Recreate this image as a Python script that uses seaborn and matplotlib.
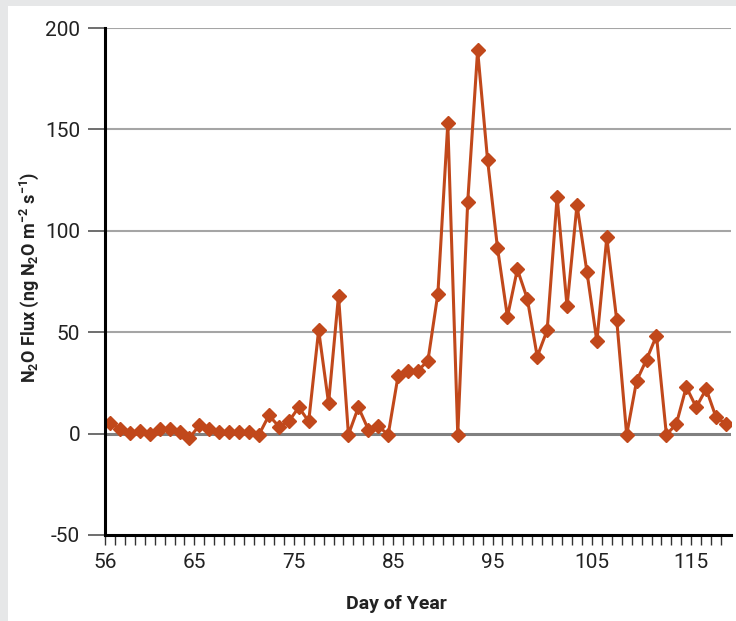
import matplotlib
matplotlib.use('Agg')
import matplotlib.pyplot as plt
from matplotlib.patches import Rectangle
from matplotlib.ticker import FixedLocator, NullFormatter
import seaborn as sns
import pandas as pd

# day of year (one sample per day)
days = [56, 57, 58, 59, 60, 61, 62, 63, 64, 65, 66, 67, 68, 69, 70, 71, 72, 73, 74, 75,
        76, 77, 78, 79, 80, 81, 82, 83, 84, 85, 86, 87, 88, 89, 90, 91, 92, 93, 94, 95,
        96, 97, 98, 99, 100, 101, 102, 103, 104, 105, 106, 107, 108, 109, 110, 111, 112,
        113, 114, 115, 116, 117, 118]

# N2O flux (ng N2O m-2 s-1)
flux = [5, 2.5, 0.5, 1.5, -0.3, 2.3, 2.3, 0.7, -2, 4, 2.3, 0.7, 1, 1, 1, -0.5, 9, 3.5, 6, 13,
        6, 51, 15, 68, -0.5, 13, 2, 3.6, -0.5, 28.6, 31, 31, 36, 69, 153, -0.5, 114, 189, 135, 91.6,
        57.6, 81, 66.5, 38, 51, 116.7, 62.7, 112.8, 79.8, 45.5, 96.7, 56, -0.6, 26, 36.5, 48.3, -0.6,
        4.8, 23, 13, 22, 8, 4.8]

x_tick_labels = ['56', '65', '75', '85', '95', '105', '115']
y_ticks = [-50, 0, 50, 100, 150, 200]
y_tick_labels = ['-50', '0', '50', '100', '150', '200']

df = pd.DataFrame({'day': days, 'flux': flux})

sns.set_style('white')
plt.rcParams['font.family'] = ['Roboto', 'DejaVu Sans']
plt.rcParams['mathtext.default'] = 'regular'

line_color = '#c1481b'
text_color = '#222222'

fig = plt.figure(figsize=(7.36, 6.21), dpi=100, facecolor='#e6e7e8')
# white panel inside the gray frame
fig.patches.append(Rectangle((8 / 736, 0), 1, (621 - 6) / 621, transform=fig.transFigure,
                             facecolor='white', edgecolor='none', zorder=-10))

ax = fig.add_axes([105 / 736, 86 / 621, 626 / 736, 507 / 621])
ax.set_facecolor('white')

# gridlines
for yv in y_ticks:
    if yv == -50:
        continue
    if yv == 0:
        ax.axhline(yv, color='#808080', lw=2.2, zorder=1)
    else:
        ax.axhline(yv, color='#a5a5a5', lw=1.5, zorder=1)

sns.lineplot(data=df, x='day', y='flux', ax=ax, color=line_color, lw=2.2,
             marker='D', markersize=7.5, markeredgecolor=line_color, markeredgewidth=1,
             zorder=3)

ax.set_xlim(55.5, 118.5)
ax.set_ylim(-50, 200)

# x ticks: labels at category starts, minor tick every day
label_days = [int(t) for t in x_tick_labels]
ax.xaxis.set_major_locator(FixedLocator([d - 0.5 for d in label_days]))
ax.set_xticklabels(x_tick_labels)
ax.xaxis.set_minor_locator(FixedLocator([d - 0.5 for d in days]))
ax.xaxis.set_minor_formatter(NullFormatter())
ax.tick_params(axis='x', which='both', direction='out', length=7, width=1, color='#333333',
               bottom=True, labelsize=15, pad=6, labelcolor=text_color)

ax.set_yticks(y_ticks)
ax.set_yticklabels(y_tick_labels)
ax.tick_params(axis='y', which='major', direction='out', length=12, width=1.2, color='#555555',
               left=True, labelsize=15, pad=6, labelcolor=text_color)

for side in ['top', 'right']:
    ax.spines[side].set_visible(False)
for side in ['left', 'bottom']:
    ax.spines[side].set_color('black')
    ax.spines[side].set_linewidth(2.2)
    ax.spines[side].set_zorder(4)

ax.set_xlabel('Day of Year', fontsize=14, fontweight='bold', color=text_color)
ax.xaxis.set_label_coords((396 - 105) / 626, -0.118)
ax.set_ylabel('N$_2$O Flux (ng N$_2$O m$^{-2}$ s$^{-1}$)', fontsize=13, fontweight='bold',
              color=text_color)
ax.yaxis.set_label_coords(-0.103, 0.508)

fig.savefig('out.png', dpi=100, facecolor=fig.get_facecolor())
